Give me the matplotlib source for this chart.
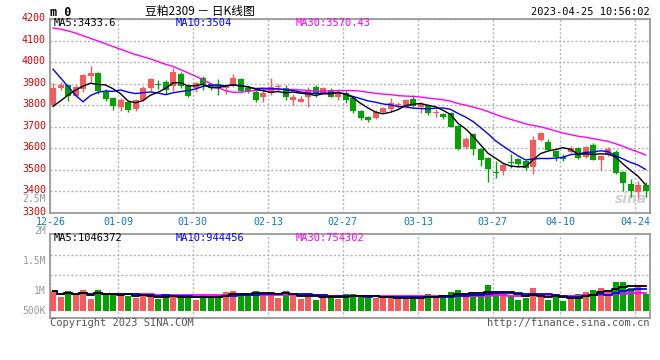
import matplotlib
matplotlib.use("Agg")
import matplotlib.pyplot as plt
import numpy as np
import pandas as pd
from matplotlib import transforms

# daily K data, 豆粕2309, 2022-12-26 .. 2023-04-25
opens = [3800, 3878, 3892, 3841, 3874, 3935, 3950, 3862, 3835, 3790,
         3815, 3783, 3823, 3878, 3897, 3910, 3891, 3945, 3891, 3880,
         3924, 3900, 3900, 3880, 3891, 3921, 3878, 3863, 3840, 3855,
         3885, 3878, 3824, 3816, 3836, 3883, 3855, 3870, 3836, 3859,
         3832, 3775, 3744, 3740, 3770, 3781, 3800, 3794, 3828, 3791,
         3801, 3766, 3760, 3763, 3704, 3607, 3666, 3598, 3555, 3490,
         3497, 3536, 3551, 3542, 3515, 3639, 3628, 3588, 3562, 3585,
         3600, 3559, 3616, 3547, 3570, 3585, 3492, 3435, 3399, 3430]
highs = [3905, 3906, 3896, 3892, 3943, 3980, 3952, 3875, 3838, 3833,
         3820, 3830, 3890, 3924, 3915, 3915, 3973, 3952, 3900, 3910,
         3936, 3904, 3921, 3894, 3946, 3925, 3882, 3880, 3878, 3925,
         3900, 3894, 3852, 3844, 3883, 3894, 3886, 3878, 3873, 3866,
         3836, 3778, 3750, 3778, 3790, 3832, 3816, 3828, 3848, 3816,
         3805, 3781, 3765, 3770, 3707, 3653, 3670, 3600, 3560, 3541,
         3530, 3572, 3557, 3548, 3659, 3677, 3644, 3593, 3574, 3613,
         3608, 3611, 3627, 3568, 3605, 3590, 3495, 3457, 3450, 3445]
lows = [3795, 3870, 3818, 3838, 3860, 3908, 3853, 3818, 3778, 3775,
        3768, 3775, 3818, 3868, 3873, 3852, 3868, 3880, 3836, 3860,
        3872, 3872, 3848, 3850, 3886, 3862, 3858, 3817, 3815, 3847,
        3868, 3824, 3800, 3813, 3790, 3840, 3850, 3836, 3824, 3808,
        3765, 3733, 3722, 3736, 3765, 3775, 3786, 3786, 3793, 3765,
        3755, 3747, 3735, 3698, 3593, 3595, 3567, 3519, 3446, 3461,
        3477, 3507, 3515, 3498, 3481, 3634, 3590, 3539, 3539, 3578,
        3550, 3553, 3545, 3500, 3565, 3483, 3404, 3372, 3368, 3375]
closes = [3881, 3896, 3841, 3884, 3940, 3950, 3867, 3830, 3795, 3826,
          3780, 3826, 3881, 3920, 3893, 3870, 3955, 3887, 3841, 3901,
          3900, 3880, 3880, 3890, 3924, 3868, 3868, 3823, 3855, 3883,
          3888, 3839, 3840, 3828, 3867, 3852, 3878, 3840, 3862, 3824,
          3775, 3743, 3732, 3767, 3786, 3809, 3804, 3825, 3797, 3806,
          3766, 3770, 3744, 3701, 3598, 3641, 3598, 3544, 3505, 3484,
          3523, 3532, 3528, 3508, 3639, 3670, 3593, 3562, 3551, 3601,
          3554, 3605, 3547, 3565, 3596, 3487, 3441, 3400, 3430, 3400]
volumes = [833000, 592000, 833000, 664000, 876000, 520000, 876000, 664000, 706000, 706000,
           635000, 550000, 706000, 622000, 495000, 622000, 635000, 664000, 550000, 478000,
           664000, 622000, 664000, 804000, 833000, 761000, 622000, 833000, 761000, 761000,
           550000, 833000, 622000, 495000, 761000, 453000, 664000, 592000, 520000, 706000,
           706000, 664000, 563000, 563000, 563000, 563000, 563000, 520000, 622000, 563000,
           706000, 563000, 622000, 804000, 876000, 706000, 706000, 732000, 1087000, 804000,
           732000, 622000, 453000, 550000, 973000, 622000, 453000, 592000, 410000, 664000,
           706000, 804000, 876000, 973000, 876000, 1214000, 1214000, 973000, 1087000, 732000]

# moving averages before the full window is available
ma5_head = [3795, 3820, 3847, 3870]
ma10_head = [3967, 3927, 3887, 3847, 3816, 3845, 3860, 3866, 3864]
ma30_head = [4158, 4153, 4145, 4135, 4122, 4110, 4098, 4085, 4072, 4060,
             4047, 4035, 4025, 4015, 4002, 3990, 3980, 3965, 3950, 3935,
             3918, 3900, 3882, 3867, 3860, 3860, 3865, 3868, 3870]

price_ma_labels = ["MA5:3433.6", "MA10:3504", "MA30:3570.43"]
vol_ma_labels = ["MA5:1046372", "MA10:944456", "MA30:754302"]

tick_labels = ["12-26", "01-09", "01-30", "02-13", "02-27", "03-13", "03-27", "04-10", "04-24"]
tick_index = [0, 9, 19, 29, 39, 49, 59, 68, 78]

RED = "#f65a5a"
GREEN = "#00a300"
GRID = "#b4b4b4"
FRAME = "#9a9a9a"
MONO = "DejaVu Sans Mono"
MA_COLORS = ["black", "#0000ff", "#ff00ff"]
LABEL_X = [0.006, 0.21, 0.41]

x = np.arange(len(closes))
o = np.array(opens)
c = np.array(closes)
up = c >= o
colors = [RED if u else GREEN for u in up]

close_s = pd.Series(closes, dtype=float)
ma5 = close_s.rolling(5).mean().values
ma10 = close_s.rolling(10).mean().values
ma30 = close_s.rolling(30).mean().values
ma5[:len(ma5_head)] = ma5_head
ma10[:len(ma10_head)] = ma10_head
ma30[:len(ma30_head)] = ma30_head

vol_s = pd.Series(volumes, dtype=float)
vma5 = vol_s.rolling(5, min_periods=1).mean().values
vma10 = vol_s.rolling(10, min_periods=1).mean().values
vma30 = vol_s.rolling(30, min_periods=1).mean().values

fig = plt.figure(figsize=(6.6, 3.6), dpi=100)
ax = fig.add_axes([50 / 660, 1 - 213 / 360, 600 / 660, 194 / 360])
axv = fig.add_axes([50 / 660, 1 - 318 / 360, 600 / 660, 84 / 360])

grid_x = [i - 0.35 for i in tick_index]

# price panel
ax.vlines(x, lows, highs, colors=colors, lw=1, zorder=3)
body_low = np.minimum(o, c)
body_h = np.maximum(np.abs(c - o), 2.5)
ax.bar(x, body_h, bottom=body_low, width=0.8, color=colors, zorder=4, linewidth=0)
ax.plot(x, ma30, color="#ff00ff", lw=1, zorder=5)
ax.plot(x, ma10, color="#0000ff", lw=1, zorder=5)
ax.plot(x, ma5, color="black", lw=1, zorder=5)

ax.set_xlim(-0.4, 79.6)
ax.set_ylim(3300, 4200)
ax.set_yticks(range(3300, 4201, 100))
ax.set_xticks(grid_x)
ax.set_xticklabels(tick_labels)
ax.grid(True, color=GRID, ls=(0, (1.5, 1.5)), lw=1)
ax.tick_params(length=0, labelsize=7.2, pad=3)
for lab in ax.get_yticklabels():
    lab.set_color("#e00000")
    lab.set_family(MONO)
    lab.set_transform(lab.get_transform() + transforms.ScaledTranslation(0, 2 / 100, fig.dpi_scale_trans))
for lab in ax.get_xticklabels():
    lab.set_color("#0a78d2")
    lab.set_family(MONO)
for s in ax.spines.values():
    s.set_color(FRAME)
    s.set_linewidth(1.3)

for txt, col, lx in zip(price_ma_labels, MA_COLORS, LABEL_X):
    ax.text(lx, 0.978, txt, transform=ax.transAxes, family=MONO,
            fontsize=7.5, color=col, va="center", ha="left")
ax.text(0.995, 0.07, "sina", transform=ax.transAxes, fontsize=10, color="#d0d0d0",
        style="italic", weight="bold", ha="right", va="center", zorder=2)

# volume panel
axv.bar(x, volumes, width=0.8, color=colors, linewidth=0, zorder=3)
axv.plot(x, vma30, color="#ff00ff", lw=1.3, drawstyle="steps-mid", zorder=4)
axv.plot(x, vma10, color="#0000ff", lw=1.3, drawstyle="steps-mid", zorder=4)
axv.plot(x, vma5, color="black", lw=1.3, drawstyle="steps-mid", zorder=4)
axv.set_xlim(-0.4, 79.6)
axv.set_ylim(-296000, 3257000)
axv.set_yticks([1523000, 2369000])
axv.set_yticklabels([])
axv.set_xticks(grid_x)
axv.set_xticklabels([])
axv.grid(True, color=GRID, ls=(0, (1.5, 1.5)), lw=1)
axv.tick_params(length=0)
for s in axv.spines.values():
    s.set_color(FRAME)
    s.set_linewidth(1.3)

for txt, col, lx in zip(vol_ma_labels, MA_COLORS, LABEL_X):
    axv.text(lx, 0.952, txt, transform=axv.transAxes, family=MONO,
             fontsize=7.5, color=col, va="center", ha="left")

# volume scale labels (drawn in gray beside the panels)
for txt, py in [("2.5M", 199), ("2M", 231), ("1.5M", 261), ("1M", 291), ("500K", 311)]:
    fig.text(46 / 660, 1 - py / 360, txt, family=MONO, fontsize=7, color="#999999",
             ha="right", va="center")

# header and footer
fig.text(50 / 660, 1 - 12 / 360, "m 0", family=MONO, fontsize=8.5, weight="bold",
         ha="left", va="center")
fig.text(200 / 660, 1 - 12 / 360, "豆粕2309 － 日K线图", family=["Noto Sans CJK SC", "DejaVu Sans"],
         fontsize=8.5, ha="center", va="center")
fig.text(650 / 660, 1 - 12 / 360, "2023-04-25 10:56:02", family=MONO, fontsize=7.5,
         ha="right", va="center")
fig.text(50 / 660, 1 - 323 / 360, "Copyright 2023 SINA.COM", family=MONO, fontsize=7.5,
         color="#555555", ha="left", va="center")
fig.text(650 / 660, 1 - 323 / 360, "http://finance.sina.com.cn", family=MONO, fontsize=7.5,
         color="#555555", ha="right", va="center")

fig.savefig("out.png", dpi=100)
plt.close(fig)
